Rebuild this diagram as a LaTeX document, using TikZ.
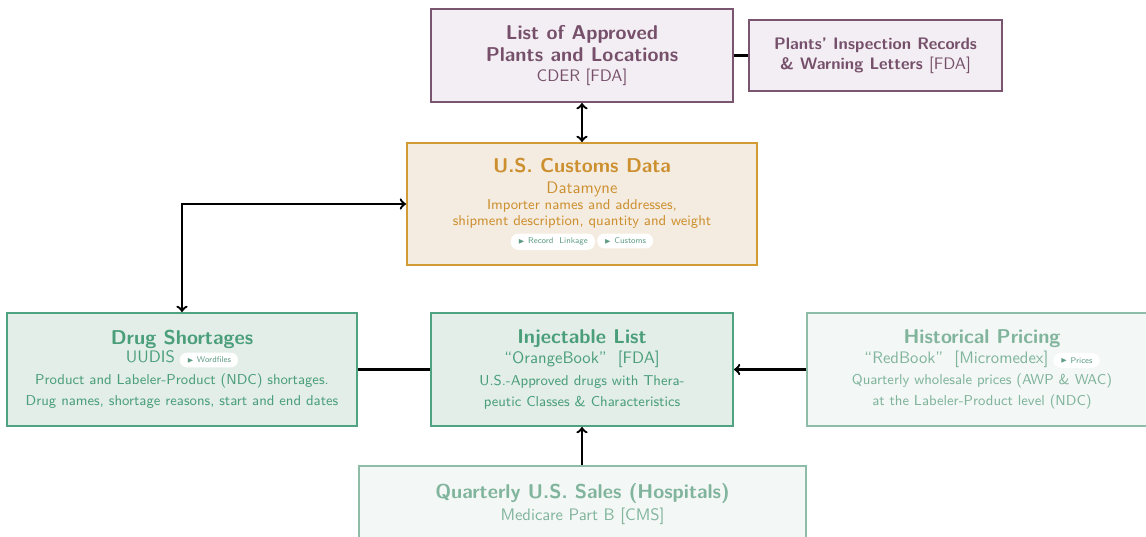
\documentclass[tikz,border=0pt]{standalone}
\usepackage{fontspec}
\usepackage{amssymb}
\definecolor{pText}{HTML}{76506B}
\definecolor{pDraw}{HTML}{7A5570}
\definecolor{pFill}{HTML}{F3EEF3}
\definecolor{gText}{HTML}{CC9030}
\definecolor{gDraw}{HTML}{D39B33}
\definecolor{gFill}{HTML}{F5ECE1}
\definecolor{eText}{HTML}{4A9E7A}
\definecolor{eDraw}{HTML}{4FA380}
\definecolor{eFill}{HTML}{E3EEE9}
\definecolor{fText}{HTML}{80B49C}
\definecolor{fDraw}{HTML}{8DBDA8}
\definecolor{fFill}{HTML}{F3F7F5}
\definecolor{tagText}{HTML}{5E9C84}
\tikzset{
  box/.style={rectangle, line width=1.2pt, align=center, inner sep=0pt, font=\sffamily\fontsize{8.6}{9.8}\selectfont},
  pbox/.style={box, draw=pDraw, fill=pFill, text=pText},
  gbox/.style={box, draw=gDraw, fill=gFill, text=gText},
  ebox/.style={box, draw=eDraw, fill=eFill, text=eText},
  fbox/.style={box, draw=fDraw, fill=fFill, text=fText},
  conn/.style={line width=1.4pt, black},
  tagsty/.style={rectangle, draw=none, minimum width=0pt, minimum height=0pt, align=left,
    rounded corners=4.3pt, fill=white, text=tagText, font=\sffamily\tiny, inner xsep=4.2pt, inner ysep=2.6pt}
}
\newcommand\tagbox[1]{\tikz[baseline=(t.base)]\node[tagsty](t){\raisebox{0.3pt}{\scalebox{0.8}{$\scriptscriptstyle\blacktriangleright$}}\ #1};}
\newcommand\ttl[1]{{\fontsize{12}{13}\selectfont\bfseries #1}}
\newcommand\sub[1]{{\normalsize #1}}
\begin{document}
\begin{tikzpicture}[x=0.6pt,y=-0.6pt]
\useasboundingbox (0,0) rectangle (1146,537);
\clip (0,0) rectangle (1146,537);
\node[pbox, minimum width=302*0.6pt, minimum height=93*0.6pt] (approved) at (582,55.5)
  {\ttl{List of Approved}\\[1.4pt]\ttl{Plants and Locations}\\[2.2pt]\sub{CDER [FDA]}};
\node[pbox, minimum width=253*0.6pt, minimum height=71*0.6pt, font=\sffamily\normalsize] (inspect) at (875.5,55.5)
  {\bfseries Plants' Inspection Records\\\bfseries \& Warning Letters \mdseries [FDA]};
\node[gbox, minimum width=350*0.6pt, minimum height=122*0.6pt] (customs) at (582,204)
  {\ttl{U.S. Customs Data}\\[2.8pt]\sub{Datamyne}\\[-0.2pt]Importer names and addresses,\\[0pt]shipment description, quantity and weight\\[1pt]\tagbox{Record~~Linkage}\,\tagbox{Customs}};
\node[ebox, minimum width=350*0.6pt, minimum height=113*0.6pt] (shortages) at (182,369.5)
  {\ttl{Drug Shortages}\\[1pt]\sub{UUDIS} \tagbox{Wordfiles}\\[3pt]Product and Labeler-Product (NDC) shortages.\\[3pt]Drug names, shortage reasons, start and end dates};
\node[ebox, minimum width=302*0.6pt, minimum height=113*0.6pt] (injectable) at (582,369.5)
  {\ttl{Injectable List}\\[1pt]\sub{``OrangeBook''\ \ [FDA]}\\[3pt]U.S.-Approved drugs with Thera-\\[3pt]peutic Classes \& Characteristics};
\node[fbox, minimum width=350*0.6pt, minimum height=113*0.6pt] (historical) at (982,369.5)
  {\ttl{Historical Pricing}\\[1pt]\sub{``RedBook''\ \ [Micromedex]} \tagbox{Prices}\\[3pt]Quarterly wholesale prices (AWP \& WAC)\\[3pt]at the Labeler-Product level (NDC)};
\node[fbox, minimum width=447*0.6pt, minimum height=76*0.6pt] (quarterly) at (582.5,504)
  {\ttl{Quarterly U.S. Sales (Hospitals)}\\[1.2pt]\sub{Medicare Part B [CMS]}};
\draw[conn] (approved.east) -- (inspect.west);
\draw[conn,<->] (approved.south) -- (customs.north);
\draw[conn,<->] (customs.west) -| (shortages.north);
\draw[conn] (shortages.east) -- (injectable.west);
\draw[conn,->] (historical.west) -- (injectable.east);
\draw[conn,->] (quarterly.north -| injectable.south) -- (injectable.south);
\end{tikzpicture}
\end{document}
